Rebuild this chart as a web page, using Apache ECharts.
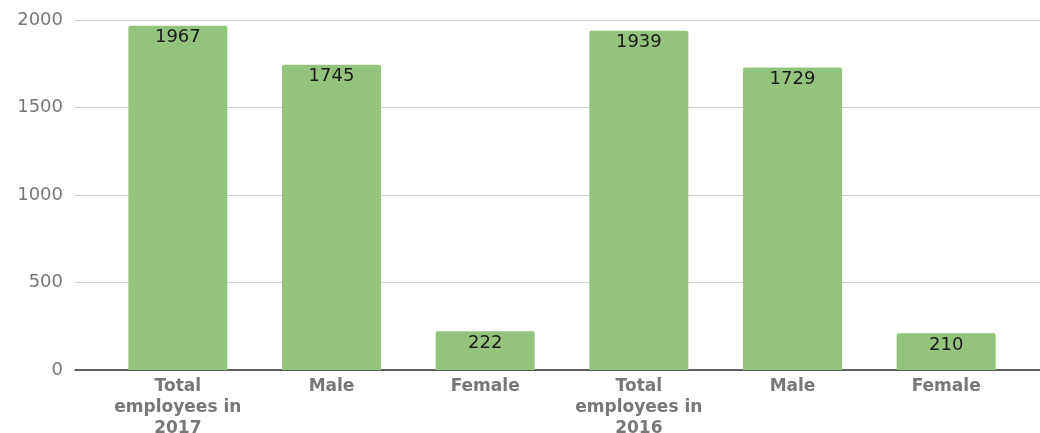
<!DOCTYPE html>
<html>
<head>
<meta charset="utf-8">
<script src="https://cdn.jsdelivr.net/npm/echarts@6/dist/echarts.min.js"></script>
<style>html,body{margin:0;padding:0;background:#fff;}#c{width:1040px;height:433px;}</style>
</head>
<body>
<div id="c"></div>
<script>
var categories = ['Total\nemployees in\n2017', 'Male', 'Female', 'Total\nemployees in\n2016', 'Male', 'Female'];
var values = [1967, 1745, 222, 1939, 1729, 210];
var yTicks = [0, 500, 1000, 1500, 2000];

var chart = echarts.init(document.getElementById('c'));
chart.setOption({
  animation: false,
  backgroundColor: '#fff',
  grid: [
    {left: 75, right: 0, top: 20, bottom: 63, outerBoundsMode: 'none', containLabel: false},
    {left: 101, right: 17, top: 20, bottom: 63, outerBoundsMode: 'none', containLabel: false}
  ],
  xAxis: [
    {gridIndex: 0, type: 'category', data: categories, axisLabel: {show: false}, axisTick: {show: false},
     axisLine: {show: true, lineStyle: {color: '#333', width: 1.5}}},
    {gridIndex: 1, type: 'category', data: categories, axisTick: {show: false}, axisLine: {show: false},
     axisLabel: {interval: 0, margin: 6, color: '#777', fontFamily: 'DejaVu Sans', fontWeight: 'bold', fontSize: 17, lineHeight: 21}}
  ],
  yAxis: [
    {gridIndex: 0, type: 'value', min: yTicks[0], max: yTicks[yTicks.length - 1], interval: 500,
     axisLine: {show: false}, axisTick: {show: false},
     axisLabel: {margin: 12, color: '#777', fontFamily: 'DejaVu Sans', fontSize: 18, formatter: function (v) { return String(v); }},
     splitLine: {lineStyle: {color: '#d0d0d0', width: 1}}},
    {gridIndex: 1, type: 'value', min: yTicks[0], max: yTicks[yTicks.length - 1], interval: 500,
     show: false, splitLine: {show: false}}
  ],
  series: [{
    type: 'bar',
    xAxisIndex: 1, yAxisIndex: 1,
    data: values,
    barWidth: 99,
    itemStyle: {color: '#93c47d', borderRadius: [2, 2, 0, 0]},
    label: {show: true, position: 'insideTop', distance: 3, color: '#1a1a1a', fontFamily: 'DejaVu Sans', fontSize: 18}
  }]
});
</script>
</body>
</html>
